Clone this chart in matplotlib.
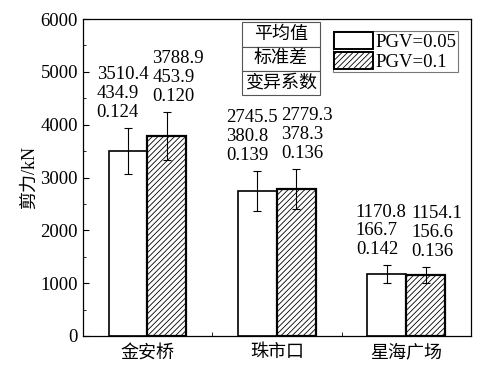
import matplotlib
matplotlib.use("Agg")
import matplotlib.pyplot as plt
from matplotlib.patches import Patch
import numpy as np

plt.rcParams['font.family'] = ['Liberation Serif', 'Noto Sans CJK SC']
plt.rcParams['hatch.linewidth'] = 0.6

# data
sites = ['金安桥', '珠市口', '星海广场']
mean_005 = [3510.4, 2745.5, 1170.8]
std_005 = [434.9, 380.8, 166.7]
cv_005 = [0.124, 0.139, 0.142]
mean_01 = [3788.9, 2779.3, 1154.1]
std_01 = [453.9, 378.3, 156.6]
cv_01 = [0.120, 0.136, 0.136]
stat_names = ['平均值', '标准差', '变异系数']
series_names = ['PGV=0.05', 'PGV=0.1']

fs = 13.5   # latin text
fc = 13     # chinese text
x = np.arange(1, len(sites) + 1)
w = 0.3

fig = plt.figure(figsize=(4.9, 3.67), dpi=100)
ax = fig.add_axes([0.169, 0.0845, 0.792, 0.8635])

ax.bar(x - w/2, mean_005, w, color='white', edgecolor='black', linewidth=1.2, zorder=2)
ax.bar(x + w/2, mean_01, w, color='white', edgecolor='black', linewidth=1.6,
       hatch='//////', zorder=2)
ax.errorbar(x - w/2, mean_005, yerr=std_005, fmt='none', ecolor='black',
            elinewidth=0.8, capsize=3, capthick=0.8, zorder=3)
ax.errorbar(x + w/2, mean_01, yerr=std_01, fmt='none', ecolor='black',
            elinewidth=0.8, capsize=3, capthick=0.8, zorder=3)

# mean / std / cv labels over each bar, nudged apart so they don't collide
for xs, m, s, c, dx in [(x - w/2, mean_005, std_005, cv_005, -4),
                        (x + w/2, mean_01, std_01, cv_01, 8)]:
    for xi, mi, si, ci in zip(xs, m, s, c):
        ax.annotate("%.1f\n%.1f\n%.3f" % (mi, si, ci), (xi, mi + si),
                    xytext=(dx, 5), textcoords='offset points', ha='center', va='bottom',
                    multialignment='left', fontsize=fs, linespacing=1.15)

ax.set_xlim(0.5, 3.5)
ax.set_ylim(0, 6000)
ax.set_xticks(x)
ax.set_xticklabels(sites, fontsize=fc)
ax.set_xticks([1.5, 2.5], minor=True)
ax.set_yticks(np.arange(0, 6001, 1000))
ax.set_yticks(np.arange(500, 6000, 1000), minor=True)
ax.tick_params(axis='both', which='both', direction='in')
ax.tick_params(axis='y', labelsize=fs)
ax.tick_params(axis='x', which='major', length=0, pad=6)
ax.tick_params(axis='x', which='minor', length=3)
ax.tick_params(axis='y', which='major', length=4)
ax.tick_params(axis='y', which='minor', length=2)
ax.set_ylabel('剪力/kN', fontsize=fc, labelpad=2)
for sp in ax.spines.values():
    sp.set_linewidth(0.9)

# stats description box
tb = ax.table(cellText=[[n] for n in stat_names], cellLoc='center',
              bbox=[0.41, 0.76, 0.201, 0.23])
tb.auto_set_font_size(False)
for cell in tb.get_celld().values():
    cell.set_edgecolor('#555555')
    cell.set_linewidth(0.8)
    cell.get_text().set_fontsize(fc)

handles = [Patch(facecolor='white', edgecolor='black', linewidth=1.4),
           Patch(facecolor='white', edgecolor='black', linewidth=1.4, hatch='//////')]
leg = ax.legend(handles, series_names, loc='upper left', bbox_to_anchor=(0.644, 0.962),
                fontsize=fs, frameon=True, fancybox=False, borderpad=0.05,
                handlelength=2.1, handleheight=1.05, handletextpad=0.15, labelspacing=0.02,
                borderaxespad=0)
leg.get_frame().set_edgecolor('#555555')
leg.get_frame().set_linewidth(0.8)

fig.savefig('out.png', dpi=100)
